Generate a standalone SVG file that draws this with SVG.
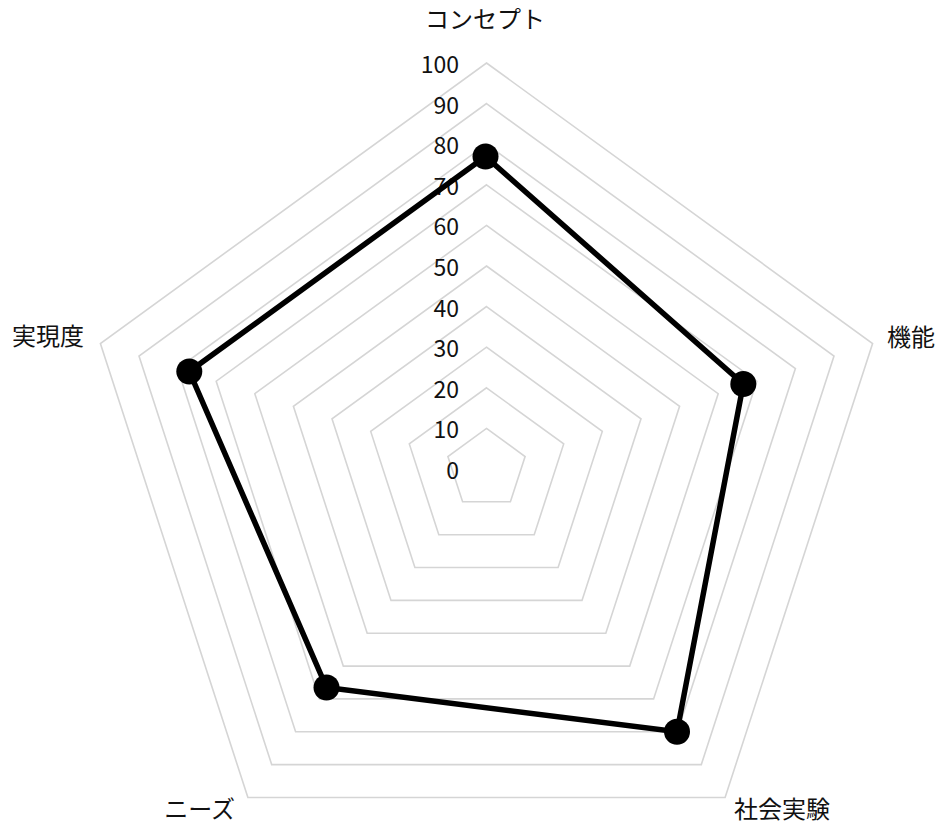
<svg xmlns="http://www.w3.org/2000/svg" width="940" height="825" viewBox="0 0 940 825">
<style>
.grid{fill:none;stroke:#d5d5d5;stroke-width:1.6;stroke-linejoin:miter}
.tick{font-family:"Noto Sans CJK JP","Noto Sans",sans-serif;font-size:23px;fill:#111;text-anchor:end}
.lbl{font-family:"Noto Sans CJK JP",sans-serif;font-size:24px;fill:#111}
.data{fill:none;stroke:#000;stroke-width:5.5;stroke-linejoin:miter}
.pt{fill:#000}
</style>
<rect width="940" height="825" fill="#fff"/>
<g id="grid">
<polygon class="grid" points="486.5,428.4 525.1,456.5 510.4,501.8 462.6,501.8 447.9,456.5"/>
<polygon class="grid" points="486.5,387.8 563.7,443.9 534.2,534.7 438.8,534.7 409.3,443.9"/>
<polygon class="grid" points="486.5,347.2 602.3,431.4 558.1,567.5 414.9,567.5 370.7,431.4"/>
<polygon class="grid" points="486.5,306.6 641.0,418.8 582.0,600.4 391.0,600.4 332.0,418.8"/>
<polygon class="grid" points="486.5,266 679.6,406.3 605.8,633.2 367.2,633.2 293.4,406.3"/>
<polygon class="grid" points="486.5,225.4 718.2,393.7 629.7,666.1 343.3,666.1 254.8,393.7"/>
<polygon class="grid" points="486.5,184.8 756.8,381.2 653.6,698.9 319.4,698.9 216.2,381.2"/>
<polygon class="grid" points="486.5,144.2 795.4,368.6 677.4,731.8 295.6,731.8 177.6,368.6"/>
<polygon class="grid" points="486.5,103.6 834.0,356.1 701.3,764.6 271.7,764.6 139.0,356.1"/>
<polygon class="grid" points="486.5,63 872.6,343.5 725.1,797.5 247.9,797.5 100.4,343.5"/>
</g>
<g id="ticks">
<text class="tick" x="459" y="479">0</text>
<text class="tick" x="459" y="438.4">10</text>
<text class="tick" x="459" y="397.8">20</text>
<text class="tick" x="459" y="357.2">30</text>
<text class="tick" x="459" y="316.6">40</text>
<text class="tick" x="459" y="276">50</text>
<text class="tick" x="459" y="235.4">60</text>
<text class="tick" x="459" y="194.8">70</text>
<text class="tick" x="459" y="154.2">80</text>
<text class="tick" x="459" y="113.6">90</text>
<text class="tick" x="459" y="73">100</text>
</g>
<g id="labels">
<text id="label-concept" class="lbl" x="485" y="28" text-anchor="middle">コンセプト</text>
<text id="label-kinou" class="lbl" x="887" y="346">機能</text>
<text id="label-shakai" class="lbl" x="734" y="818">社会実験</text>
<text id="label-needs" class="lbl" x="235" y="818" text-anchor="end">ニーズ</text>
<text id="label-jitsugen" class="lbl" x="84" y="345" text-anchor="end">実現度</text>
</g>
<g id="connectors">
<polygon class="data" points="485.5,156.5 743.3,384 677,731.8 326.5,687.5 189.3,371.5"/>
</g>
<g id="node-concept"><circle class="pt" cx="485.5" cy="156.5" r="13"/></g>
<g id="node-kinou"><circle class="pt" cx="743.3" cy="384" r="13"/></g>
<g id="node-shakai"><circle class="pt" cx="677" cy="731.8" r="13"/></g>
<g id="node-needs"><circle class="pt" cx="326.5" cy="687.5" r="13"/></g>
<g id="node-jitsugen"><circle class="pt" cx="189.3" cy="371.5" r="13"/></g>
</svg>
